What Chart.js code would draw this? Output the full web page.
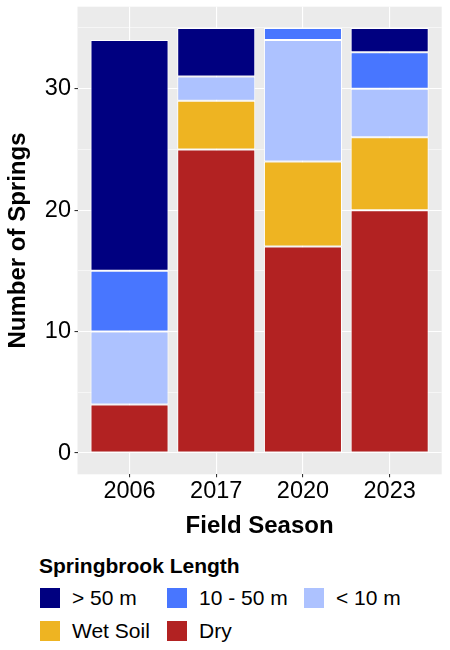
<!DOCTYPE html>
<html>
<head>
<meta charset="utf-8">
<script src="https://cdn.jsdelivr.net/npm/chart.js@4"></script>
<style>
  html, body { margin: 0; padding: 0; background: #fff; }
  #wrap { position: relative; width: 450px; height: 650px; font-family: "Liberation Sans", Arial, sans-serif; }
  #plot { position: absolute; left: 0; top: 0; width: 450px; height: 541px; }
  #legend { position: absolute; left: 40px; top: 555px; color: #000; }
  #legend .title { font-weight: bold; font-size: 21px; line-height: 21px; margin-left: -1px; }
  #legend .items { display: grid; grid-template-columns: 127px 137px auto; row-gap: 13px; margin-top: 12px; }
  #legend .item { display: flex; align-items: center; font-size: 21px; line-height: 20px; height: 20px; }
  #legend .key { width: 20px; height: 20px; margin-right: 12px; flex: none; }
</style>
</head>
<body>
<div id="wrap">
  <div id="plot"><canvas id="chart"></canvas></div>
  <div id="legend"></div>
</div>
<script>
// field seasons on the x axis
const seasons = ["2006", "2017", "2020", "2023"];

// springs per category, stacked bottom to top
const dry = [4, 25, 17, 20];
const wetSoil = [0, 4, 7, 6];
const under10 = [6, 2, 10, 4];
const from10to50 = [5, 0, 1, 3];
const over50 = [19, 4, 0, 2];

const yTicks = [0, 5, 10, 15, 20, 25, 30, 35];

const series = [
  { label: "Dry", data: dry, color: "#B22222" },
  { label: "Wet Soil", data: wetSoil, color: "#EEB422" },
  { label: "< 10 m", data: under10, color: "#ADC2FF" },
  { label: "10 - 50 m", data: from10to50, color: "#4876FF" },
  { label: "> 50 m", data: over50, color: "#000080" },
];

const font = "'Liberation Sans', Arial, sans-serif";

const panelBg = {
  id: "panelBg",
  beforeDraw(chart) {
    const { ctx, chartArea: a } = chart;
    ctx.save();
    ctx.fillStyle = "#EBEBEB";
    ctx.fillRect(a.left, a.top, a.right - a.left, a.bottom - a.top);
    ctx.restore();
  },
};

const ctx = document.getElementById("chart").getContext("2d");

const chart = new Chart(ctx, {
  type: "bar",
  data: {
    datasets: series.map((s) => ({
      label: s.label,
      data: s.data.map((v, i) => ({ x: i + 1, y: v })),
      backgroundColor: s.color,
      borderColor: "#FFFFFF",
      borderWidth: 1,
      borderSkipped: false,
      barPercentage: 0.9,
      categoryPercentage: 1,
    })),
  },
  options: {
    responsive: true,
    maintainAspectRatio: false,
    animation: false,
    layout: { padding: { left: 0, right: 8.3, top: 6.7, bottom: 0 } },
    plugins: { legend: { display: false }, tooltip: { enabled: false } },
    scales: {
      x: {
        type: "linear",
        stacked: true,
        offset: false,
        min: 0.4,
        max: 4.6,
        afterBuildTicks: (s) => { s.ticks = seasons.map((_, i) => ({ value: i + 1 })); },
        afterFit: (s) => { s.height = 66.7; s.paddingLeft = 0; s.paddingRight = 0; },
        border: { display: false },
        grid: { offset: false, color: "#FFFFFF", lineWidth: 1.1, tickLength: 3, tickColor: "#333333", tickWidth: 1.1 },
        ticks: {
          color: "#000",
          padding: 0,
          font: { family: font, size: 23.5 },
          callback: (v) => seasons[v - 1],
        },
        title: {
          display: true,
          text: "Field Season",
          color: "#000",
          padding: { top: 0, bottom: 0 },
          font: { family: font, size: 24, weight: "bold" },
        },
      },
      y: {
        stacked: true,
        min: -1.75,
        max: 36.75,
        afterBuildTicks: (s) => { s.ticks = yTicks.map((v) => ({ value: v })); },
        afterFit: (s) => { s.width = 77.5; s.paddingTop = 0; s.paddingBottom = 0; },
        border: { display: false },
        grid: {
          color: "#FFFFFF",
          lineWidth: (c) => (c.tick && c.tick.value % 10 === 0 ? 1.1 : 0.55),
          tickLength: 3,
          tickWidth: 1.1,
          tickColor: (c) => (c.tick && c.tick.value % 10 === 0 ? "#333333" : "rgba(0,0,0,0)"),
        },
        ticks: {
          color: "#000",
          padding: 3.5,
          font: { family: font, size: 23.5 },
          callback: (v) => (v % 10 === 0 ? String(v) : ""),
        },
        title: {
          display: true,
          text: "Number of Springs",
          color: "#000",
          padding: { top: 4, bottom: 0 },
          font: { family: font, size: 24, weight: "bold" },
        },
      },
    },
  },
  plugins: [panelBg],
});

// legend, in the reference order (top of stack first)
const legend = document.getElementById("legend");
legend.innerHTML = '<div class="title">Springbrook Length</div><div class="items"></div>';
const items = legend.querySelector(".items");
series.slice().reverse().forEach((s) => {
  const el = document.createElement("div");
  el.className = "item";
  el.innerHTML = '<span class="key" style="background:' + s.color + '"></span><span></span>';
  el.lastChild.textContent = s.label;
  items.appendChild(el);
});
</script>
</body>
</html>
